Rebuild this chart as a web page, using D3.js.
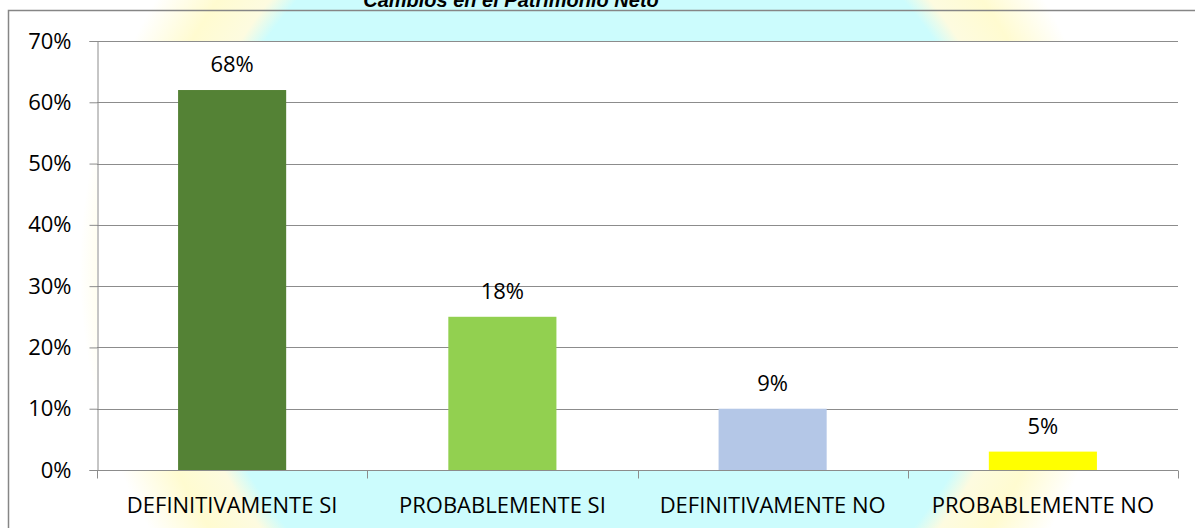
<!DOCTYPE html>
<html>
<head>
<meta charset="utf-8">
<script src="https://cdn.jsdelivr.net/npm/d3@7"></script>
<style>
  body { margin: 0; background: #fff; }
  svg { display: block; }
</style>
</head>
<body>
<div id="chart"></div>
<script>
// Chart data
const categories = ["DEFINITIVAMENTE SI", "PROBABLEMENTE SI", "DEFINITIVAMENTE NO", "PROBABLEMENTE NO"];
const barValues = [0.62, 0.25, 0.10, 0.03];      // bar heights as drawn
const barLabels = ["68%", "18%", "9%", "5%"];     // data labels as printed
const barColors = ["#548235", "#92d050", "#b4c7e7", "#ffff00"];
const yTicks = [0, 0.1, 0.2, 0.3, 0.4, 0.5, 0.6, 0.7];
const title = "Cambios en el Patrimonio Neto";

const width = 1195, height = 528;
const margin = { top: 41, right: 17, bottom: 58, left: 97 };
const font = "Open Sans, Calibri, sans-serif";
const fontSize = 22;

const svg = d3.select("#chart")
    .append("svg")
    .attr("width", width)
    .attr("height", height);

// faint watermark behind the chart
const defs = svg.append("defs");
const glow = defs.append("radialGradient").attr("id", "wm")
    .attr("cx", 0.5).attr("cy", 0.5).attr("r", 0.5);
glow.append("stop").attr("offset", "0.78").attr("stop-color", "#ccfcfd");
glow.append("stop").attr("offset", "0.82").attr("stop-color", "#fdfbe0");
glow.append("stop").attr("offset", "0.9").attr("stop-color", "#fffbd0");
glow.append("stop").attr("offset", "1").attr("stop-color", "#ffffff");
svg.append("circle")
    .attr("cx", 600).attr("cy", 270).attr("r", 520)
    .attr("fill", "url(#wm)");

// outer chart frame
svg.append("rect")
    .attr("x", 8.5).attr("y", 10.5)
    .attr("width", width + 20).attr("height", height + 20)
    .attr("fill", "none")
    .attr("stroke", "#868686")
    .attr("stroke-width", 1.5);

// title, mostly cut off by the top of the picture (as in the source)
svg.append("text")
    .attr("x", 511).attr("y", 6.5)
    .attr("text-anchor", "middle")
    .attr("font-family", "Liberation Sans, Arial, sans-serif")
    .attr("font-size", 20)
    .attr("font-weight", "bold")
    .attr("font-style", "italic")
    .text(title);

const x = d3.scaleBand()
    .domain(categories)
    .range([margin.left, width - margin.right])
    .paddingInner(0.6)
    .paddingOuter(0.3);

const xEdges = d3.scaleBand()
    .domain(categories)
    .range([margin.left, width - margin.right])
    .padding(0);

const y = d3.scaleLinear()
    .domain([0, 0.7])
    .range([height - margin.bottom, margin.top]);

// plot area
svg.append("rect")
    .attr("x", margin.left).attr("y", margin.top)
    .attr("width", width - margin.right - margin.left)
    .attr("height", height - margin.bottom - margin.top)
    .attr("fill", "#fff");

// gridlines
svg.append("g")
    .selectAll("line")
    .data(yTicks)
    .enter().append("line")
    .attr("x1", margin.left).attr("x2", width - margin.right)
    .attr("y1", d => Math.round(y(d)) + 0.5)
    .attr("y2", d => Math.round(y(d)) + 0.5)
    .attr("stroke", "#8c8c8c");

// y axis
const yAxis = svg.append("g")
    .attr("transform", `translate(${margin.left + 0.5},0)`)
    .call(d3.axisLeft(y).tickValues(yTicks).tickFormat(d3.format(".0%")).tickSize(8).tickPadding(18));
yAxis.select(".domain").attr("stroke", "#8c8c8c");
yAxis.selectAll(".tick line").attr("stroke", "#8c8c8c");
yAxis.selectAll("text")
    .attr("font-family", font)
    .attr("font-size", fontSize)
    .attr("fill", "#000");

// bars
svg.selectAll(".bar")
    .data(categories)
    .enter().append("rect")
    .attr("class", "bar")
    .attr("x", d => x(d))
    .attr("width", x.bandwidth())
    .attr("y", (d, i) => y(barValues[i]))
    .attr("height", (d, i) => y(0) - y(barValues[i]))
    .attr("fill", (d, i) => barColors[i]);

// data labels
svg.selectAll(".lbl")
    .data(categories)
    .enter().append("text")
    .attr("class", "lbl")
    .attr("x", d => x(d) + x.bandwidth() / 2)
    .attr("y", (d, i) => y(barValues[i]) - 18)
    .attr("text-anchor", "middle")
    .attr("font-family", font)
    .attr("font-size", fontSize)
    .text((d, i) => barLabels[i]);

// x axis with ticks at category boundaries
const base = Math.round(y(0)) + 0.5;
svg.append("line")
    .attr("x1", margin.left).attr("x2", width - margin.right)
    .attr("y1", base).attr("y2", base)
    .attr("stroke", "#8c8c8c");
svg.append("g")
    .selectAll("line")
    .data(categories.concat(["_end"]))
    .enter().append("line")
    .attr("x1", (d, i) => Math.round(i < categories.length ? xEdges(d) : width - margin.right) + 0.5)
    .attr("x2", (d, i) => Math.round(i < categories.length ? xEdges(d) : width - margin.right) + 0.5)
    .attr("y1", base).attr("y2", base + 8)
    .attr("stroke", "#8c8c8c");

svg.append("g")
    .selectAll("text")
    .data(categories)
    .enter().append("text")
    .attr("x", d => x(d) + x.bandwidth() / 2)
    .attr("y", 513)
    .attr("text-anchor", "middle")
    .attr("font-family", font)
    .attr("font-size", fontSize)
    .text(d => d);
</script>
</body>
</html>
